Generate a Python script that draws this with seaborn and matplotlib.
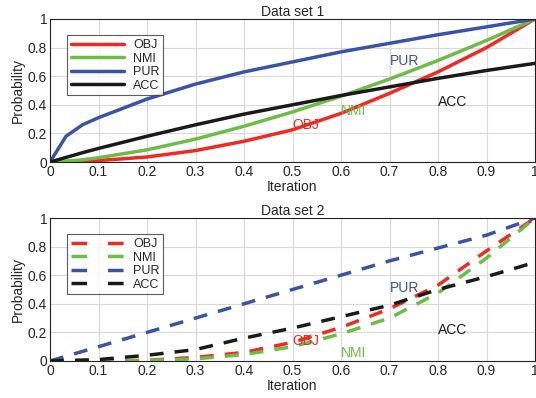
import numpy as np
import pandas as pd
import matplotlib
matplotlib.use("Agg")
import matplotlib.pyplot as plt
import seaborn as sns

# ---- data ----
x1 = [0, 0.033, 0.067, 0.1, 0.2, 0.3, 0.4, 0.5, 0.6, 0.7, 0.8, 0.9, 1.0]
obj1 = [0, 0.002, 0.005, 0.01, 0.035, 0.08, 0.145, 0.225, 0.34, 0.48, 0.63, 0.80, 1.0]
nmi1 = [0, 0.006, 0.015, 0.03, 0.085, 0.16, 0.25, 0.35, 0.46, 0.58, 0.71, 0.85, 1.0]
pur1 = [0, 0.18, 0.26, 0.31, 0.44, 0.545, 0.63, 0.70, 0.77, 0.83, 0.89, 0.945, 1.0]
acc1 = [0, 0.032, 0.065, 0.095, 0.18, 0.26, 0.335, 0.40, 0.465, 0.525, 0.585, 0.64, 0.69]

x2 = [0, 0.1, 0.2, 0.3, 0.4, 0.5, 0.6, 0.7, 0.8, 0.9, 1.0]
obj2 = [0, 0.0, 0.005, 0.025, 0.06, 0.13, 0.235, 0.365, 0.53, 0.77, 1.0]
nmi2 = [0, 0.0, 0.003, 0.015, 0.045, 0.10, 0.19, 0.30, 0.475, 0.72, 1.0]
pur2 = [0, 0.10, 0.20, 0.30, 0.40, 0.50, 0.60, 0.70, 0.79, 0.88, 1.0]
acc2 = [0, 0.01, 0.04, 0.08, 0.16, 0.23, 0.31, 0.39, 0.50, 0.59, 0.69]

series = ["OBJ", "NMI", "PUR", "ACC"]
colors = {"OBJ": "#ee2a24", "NMI": "#6cbd45", "PUR": "#3a53a4", "ACC": "#1a1a1a"}

def make_df(x, vals):
    rows = []
    for name, v in zip(series, vals):
        for xi, yi in zip(x, v):
            rows.append({"Iteration": xi, "Probability": yi, "Method": name})
    return pd.DataFrame(rows)

df1 = make_df(x1, [obj1, nmi1, pur1, acc1])
df2 = make_df(x2, [obj2, nmi2, pur2, acc2])

labels1 = [("PUR", 0.70, 0.66), ("NMI", 0.60, 0.31), ("OBJ", 0.50, 0.21), ("ACC", 0.80, 0.37)]
labels2 = [("PUR", 0.70, 0.46), ("OBJ", 0.50, 0.09), ("NMI", 0.60, 0.01), ("ACC", 0.80, 0.17)]

sns.set_style("whitegrid")
plt.rcParams["font.family"] = ["Liberation Sans", "DejaVu Sans"]

fig = plt.figure(figsize=(5.36, 3.98), dpi=100)
ax1 = fig.add_axes([50/536, 1 - 162/398, 485/536, 143/398])
ax2 = fig.add_axes([50/536, 1 - 361/398, 485/536, 143/398])

for ax, df, title, dashed, labs in [(ax1, df1, "Data set 1", False, labels1),
                                    (ax2, df2, "Data set 2", True, labels2)]:
    sns.lineplot(data=df, x="Iteration", y="Probability", hue="Method",
                 hue_order=series, palette=colors, linewidth=2.5, ax=ax,
                 legend=True)
    if dashed:
        for ln in ax.get_lines():
            ln.set_dashes([4, 3.2])
    ax.set_xlim(0, 1)
    ax.set_ylim(0, 1)
    ax.set_xticks(np.arange(0, 1.01, 0.1))
    ax.set_xticklabels(["0", "0.1", "0.2", "0.3", "0.4", "0.5", "0.6", "0.7", "0.8", "0.9", "1"])
    ax.set_yticks(np.arange(0, 1.01, 0.2))
    ax.set_yticklabels(["0", "0.2", "0.4", "0.6", "0.8", "1"])
    ax.tick_params(labelsize=10, pad=2, length=0)
    ax.set_xlabel("Iteration", fontsize=10, labelpad=1)
    ax.set_ylabel("Probability", fontsize=10, labelpad=2)
    ax.set_title(title, fontsize=10, pad=2)
    ax.grid(True, color="#d9d9d9", linewidth=0.8)
    for s in ax.spines.values():
        s.set_color("#222222")
        s.set_linewidth(0.8)
    h, l = ax.get_legend_handles_labels()
    if dashed:
        for hh in h:
            hh.set_dashes([4.5, 6])
    leg = ax.legend(h, l, loc="upper left", bbox_to_anchor=(0.035, 0.885),
                    borderaxespad=0,
                    fontsize=9, frameon=True, fancybox=False, edgecolor="#333333",
                    handlelength=4.3, borderpad=0.3, labelspacing=0.12,
                    handletextpad=0.7)
    leg.get_frame().set_linewidth(0.8)
    for name, tx, ty in labs:
        ax.text(tx, ty, name, color=colors[name], fontsize=10, ha="left", va="bottom")

fig.savefig("out.png", dpi=100)
